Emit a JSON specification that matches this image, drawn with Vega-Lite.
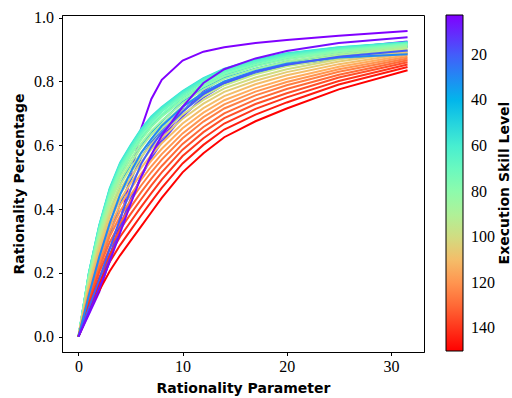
{
"$schema": "https://vega.github.io/schema/vega-lite/v6.json",
"width": 362, "height": 337,
"autosize": "none",
"padding": {"left": 62, "top": 15, "right": 88, "bottom": 46},
"background": "white",
"config": {
 "view": {"stroke": "black", "strokeWidth": 1},
 "axis": {"grid": false, "domainColor": "black", "domainWidth": 1, "tickColor": "black", "tickSize": 3.5, "tickWidth": 1,
  "labelFont": "Liberation Serif", "labelFontSize": 16, "labelColor": "black",
  "titleFont": "DejaVu Sans", "titleFontWeight": "bold", "titleFontSize": 14, "titleColor": "black"}
},
"data": {"values": [
{"L":2.5,"x":0,"y":0},{"L":2.5,"x":1,"y":0.07},{"L":2.5,"x":2,"y":0.14},{"L":2.5,"x":3,"y":0.24},{"L":2.5,"x":4,"y":0.36},{"L":2.5,"x":5,"y":0.5},{"L":2.5,"x":6,"y":0.65},{"L":2.5,"x":7,"y":0.745},{"L":2.5,"x":8,"y":0.805},{"L":2.5,"x":10,"y":0.865},{"L":2.5,"x":12,"y":0.893},{"L":2.5,"x":14,"y":0.907},{"L":2.5,"x":17,"y":0.92},{"L":2.5,"x":20,"y":0.93},{"L":2.5,"x":25,"y":0.943},{"L":2.5,"x":31.6,"y":0.958},
{"L":10,"x":0,"y":0},{"L":10,"x":1,"y":0.08},{"L":10,"x":2,"y":0.16},{"L":10,"x":3,"y":0.25},{"L":10,"x":4,"y":0.34},{"L":10,"x":5,"y":0.425},{"L":10,"x":6,"y":0.5},{"L":10,"x":7,"y":0.565},{"L":10,"x":8,"y":0.62},{"L":10,"x":10,"y":0.705},{"L":10,"x":12,"y":0.77},{"L":10,"x":14,"y":0.815},{"L":10,"x":17,"y":0.855},{"L":10,"x":20,"y":0.878},{"L":10,"x":25,"y":0.903},{"L":10,"x":31.6,"y":0.925},
{"L":15,"x":0,"y":0},{"L":15,"x":1,"y":0.085},{"L":15,"x":2,"y":0.165},{"L":15,"x":3,"y":0.255},{"L":15,"x":4,"y":0.345},{"L":15,"x":5,"y":0.43},{"L":15,"x":6,"y":0.5},{"L":15,"x":7,"y":0.56},{"L":15,"x":8,"y":0.61},{"L":15,"x":10,"y":0.69},{"L":15,"x":12,"y":0.75},{"L":15,"x":14,"y":0.79},{"L":15,"x":17,"y":0.83},{"L":15,"x":20,"y":0.855},{"L":15,"x":25,"y":0.885},{"L":15,"x":31.6,"y":0.91},
{"L":25,"x":0,"y":0},{"L":25,"x":1,"y":0.11},{"L":25,"x":2,"y":0.21},{"L":25,"x":3,"y":0.32},{"L":25,"x":4,"y":0.415},{"L":25,"x":5,"y":0.49},{"L":25,"x":6,"y":0.56},{"L":25,"x":7,"y":0.61},{"L":25,"x":8,"y":0.65},{"L":25,"x":10,"y":0.71},{"L":25,"x":12,"y":0.755},{"L":25,"x":14,"y":0.79},{"L":25,"x":17,"y":0.825},{"L":25,"x":20,"y":0.85},{"L":25,"x":25,"y":0.872},{"L":25,"x":31.6,"y":0.887},
{"L":35,"x":0,"y":0},{"L":35,"x":1,"y":0.15},{"L":35,"x":2,"y":0.28},{"L":35,"x":3,"y":0.39},{"L":35,"x":4,"y":0.475},{"L":35,"x":5,"y":0.54},{"L":35,"x":6,"y":0.595},{"L":35,"x":7,"y":0.64},{"L":35,"x":8,"y":0.675},{"L":35,"x":10,"y":0.735},{"L":35,"x":12,"y":0.778},{"L":35,"x":14,"y":0.81},{"L":35,"x":17,"y":0.84},{"L":35,"x":20,"y":0.862},{"L":35,"x":25,"y":0.882},{"L":35,"x":31.6,"y":0.895},
{"L":40,"x":0,"y":0},{"L":40,"x":1,"y":0.17},{"L":40,"x":2,"y":0.31},{"L":40,"x":3,"y":0.425},{"L":40,"x":4,"y":0.51},{"L":40,"x":5,"y":0.57},{"L":40,"x":6,"y":0.62},{"L":40,"x":7,"y":0.66},{"L":40,"x":8,"y":0.695},{"L":40,"x":10,"y":0.75},{"L":40,"x":12,"y":0.79},{"L":40,"x":14,"y":0.822},{"L":40,"x":17,"y":0.85},{"L":40,"x":20,"y":0.871},{"L":40,"x":25,"y":0.892},{"L":40,"x":31.6,"y":0.908},
{"L":45,"x":0,"y":0},{"L":45,"x":1,"y":0.185},{"L":45,"x":2,"y":0.33},{"L":45,"x":3,"y":0.445},{"L":45,"x":4,"y":0.527},{"L":45,"x":5,"y":0.585},{"L":45,"x":6,"y":0.635},{"L":45,"x":7,"y":0.675},{"L":45,"x":8,"y":0.707},{"L":45,"x":10,"y":0.76},{"L":45,"x":12,"y":0.8},{"L":45,"x":14,"y":0.83},{"L":45,"x":17,"y":0.858},{"L":45,"x":20,"y":0.879},{"L":45,"x":25,"y":0.899},{"L":45,"x":31.6,"y":0.915},
{"L":50,"x":0,"y":0},{"L":50,"x":1,"y":0.198},{"L":50,"x":2,"y":0.346},{"L":50,"x":3,"y":0.46},{"L":50,"x":4,"y":0.539},{"L":50,"x":5,"y":0.594},{"L":50,"x":6,"y":0.644},{"L":50,"x":7,"y":0.684},{"L":50,"x":8,"y":0.714},{"L":50,"x":10,"y":0.765},{"L":50,"x":12,"y":0.805},{"L":50,"x":14,"y":0.836},{"L":50,"x":17,"y":0.864},{"L":50,"x":20,"y":0.885},{"L":50,"x":25,"y":0.904},{"L":50,"x":31.6,"y":0.921},
{"L":55,"x":0,"y":0},{"L":55,"x":1,"y":0.2},{"L":55,"x":2,"y":0.35},{"L":55,"x":3,"y":0.465},{"L":55,"x":4,"y":0.545},{"L":55,"x":5,"y":0.6},{"L":55,"x":6,"y":0.65},{"L":55,"x":7,"y":0.69},{"L":55,"x":8,"y":0.72},{"L":55,"x":10,"y":0.77},{"L":55,"x":12,"y":0.81},{"L":55,"x":14,"y":0.84},{"L":55,"x":17,"y":0.868},{"L":55,"x":20,"y":0.888},{"L":55,"x":25,"y":0.907},{"L":55,"x":31.6,"y":0.923},
{"L":60,"x":0,"y":0},{"L":60,"x":1,"y":0.199},{"L":60,"x":2,"y":0.348},{"L":60,"x":3,"y":0.462},{"L":60,"x":4,"y":0.542},{"L":60,"x":5,"y":0.597},{"L":60,"x":6,"y":0.647},{"L":60,"x":7,"y":0.687},{"L":60,"x":8,"y":0.717},{"L":60,"x":10,"y":0.767},{"L":60,"x":12,"y":0.808},{"L":60,"x":14,"y":0.838},{"L":60,"x":17,"y":0.866},{"L":60,"x":20,"y":0.886},{"L":60,"x":25,"y":0.906},{"L":60,"x":31.6,"y":0.922},
{"L":65,"x":0,"y":0},{"L":65,"x":1,"y":0.196},{"L":65,"x":2,"y":0.344},{"L":65,"x":3,"y":0.457},{"L":65,"x":4,"y":0.536},{"L":65,"x":5,"y":0.591},{"L":65,"x":6,"y":0.641},{"L":65,"x":7,"y":0.681},{"L":65,"x":8,"y":0.711},{"L":65,"x":10,"y":0.762},{"L":65,"x":12,"y":0.803},{"L":65,"x":14,"y":0.834},{"L":65,"x":17,"y":0.862},{"L":65,"x":20,"y":0.883},{"L":65,"x":25,"y":0.903},{"L":65,"x":31.6,"y":0.92},
{"L":70,"x":0,"y":0},{"L":70,"x":1,"y":0.194},{"L":70,"x":2,"y":0.34},{"L":70,"x":3,"y":0.452},{"L":70,"x":4,"y":0.531},{"L":70,"x":5,"y":0.585},{"L":70,"x":6,"y":0.635},{"L":70,"x":7,"y":0.675},{"L":70,"x":8,"y":0.706},{"L":70,"x":10,"y":0.757},{"L":70,"x":12,"y":0.798},{"L":70,"x":14,"y":0.829},{"L":70,"x":17,"y":0.858},{"L":70,"x":20,"y":0.879},{"L":70,"x":25,"y":0.9},{"L":70,"x":31.6,"y":0.919},
{"L":75,"x":0,"y":0},{"L":75,"x":1,"y":0.19},{"L":75,"x":2,"y":0.334},{"L":75,"x":3,"y":0.444},{"L":75,"x":4,"y":0.522},{"L":75,"x":5,"y":0.576},{"L":75,"x":6,"y":0.626},{"L":75,"x":7,"y":0.666},{"L":75,"x":8,"y":0.697},{"L":75,"x":10,"y":0.75},{"L":75,"x":12,"y":0.791},{"L":75,"x":14,"y":0.823},{"L":75,"x":17,"y":0.853},{"L":75,"x":20,"y":0.874},{"L":75,"x":25,"y":0.896},{"L":75,"x":31.6,"y":0.916},
{"L":80,"x":0,"y":0},{"L":80,"x":1,"y":0.187},{"L":80,"x":2,"y":0.327},{"L":80,"x":3,"y":0.436},{"L":80,"x":4,"y":0.513},{"L":80,"x":5,"y":0.567},{"L":80,"x":6,"y":0.616},{"L":80,"x":7,"y":0.657},{"L":80,"x":8,"y":0.689},{"L":80,"x":10,"y":0.742},{"L":80,"x":12,"y":0.784},{"L":80,"x":14,"y":0.816},{"L":80,"x":17,"y":0.847},{"L":80,"x":20,"y":0.869},{"L":80,"x":25,"y":0.893},{"L":80,"x":31.6,"y":0.913},
{"L":85,"x":0,"y":0},{"L":85,"x":1,"y":0.182},{"L":85,"x":2,"y":0.319},{"L":85,"x":3,"y":0.426},{"L":85,"x":4,"y":0.502},{"L":85,"x":5,"y":0.555},{"L":85,"x":6,"y":0.604},{"L":85,"x":7,"y":0.645},{"L":85,"x":8,"y":0.677},{"L":85,"x":10,"y":0.732},{"L":85,"x":12,"y":0.775},{"L":85,"x":14,"y":0.808},{"L":85,"x":17,"y":0.839},{"L":85,"x":20,"y":0.862},{"L":85,"x":25,"y":0.887},{"L":85,"x":31.6,"y":0.91},
{"L":90,"x":0,"y":0},{"L":90,"x":1,"y":0.177},{"L":90,"x":2,"y":0.311},{"L":90,"x":3,"y":0.416},{"L":90,"x":4,"y":0.49},{"L":90,"x":5,"y":0.543},{"L":90,"x":6,"y":0.592},{"L":90,"x":7,"y":0.633},{"L":90,"x":8,"y":0.666},{"L":90,"x":10,"y":0.722},{"L":90,"x":12,"y":0.765},{"L":90,"x":14,"y":0.799},{"L":90,"x":17,"y":0.831},{"L":90,"x":20,"y":0.855},{"L":90,"x":25,"y":0.882},{"L":90,"x":31.6,"y":0.906},
{"L":95,"x":0,"y":0},{"L":95,"x":1,"y":0.171},{"L":95,"x":2,"y":0.301},{"L":95,"x":3,"y":0.403},{"L":95,"x":4,"y":0.475},{"L":95,"x":5,"y":0.528},{"L":95,"x":6,"y":0.577},{"L":95,"x":7,"y":0.618},{"L":95,"x":8,"y":0.652},{"L":95,"x":10,"y":0.709},{"L":95,"x":12,"y":0.754},{"L":95,"x":14,"y":0.788},{"L":95,"x":17,"y":0.822},{"L":95,"x":20,"y":0.847},{"L":95,"x":25,"y":0.875},{"L":95,"x":31.6,"y":0.902},
{"L":100,"x":0,"y":0},{"L":100,"x":1,"y":0.165},{"L":100,"x":2,"y":0.291},{"L":100,"x":3,"y":0.39},{"L":100,"x":4,"y":0.461},{"L":100,"x":5,"y":0.513},{"L":100,"x":6,"y":0.562},{"L":100,"x":7,"y":0.603},{"L":100,"x":8,"y":0.637},{"L":100,"x":10,"y":0.696},{"L":100,"x":12,"y":0.742},{"L":100,"x":14,"y":0.778},{"L":100,"x":17,"y":0.812},{"L":100,"x":20,"y":0.838},{"L":100,"x":25,"y":0.869},{"L":100,"x":31.6,"y":0.898},
{"L":105,"x":0,"y":0},{"L":105,"x":1,"y":0.159},{"L":105,"x":2,"y":0.28},{"L":105,"x":3,"y":0.377},{"L":105,"x":4,"y":0.446},{"L":105,"x":5,"y":0.498},{"L":105,"x":6,"y":0.546},{"L":105,"x":7,"y":0.588},{"L":105,"x":8,"y":0.623},{"L":105,"x":10,"y":0.683},{"L":105,"x":12,"y":0.73},{"L":105,"x":14,"y":0.767},{"L":105,"x":17,"y":0.802},{"L":105,"x":20,"y":0.829},{"L":105,"x":25,"y":0.862},{"L":105,"x":31.6,"y":0.893},
{"L":110,"x":0,"y":0},{"L":110,"x":1,"y":0.152},{"L":110,"x":2,"y":0.268},{"L":110,"x":3,"y":0.361},{"L":110,"x":4,"y":0.429},{"L":110,"x":5,"y":0.48},{"L":110,"x":6,"y":0.528},{"L":110,"x":7,"y":0.57},{"L":110,"x":8,"y":0.606},{"L":110,"x":10,"y":0.668},{"L":110,"x":12,"y":0.716},{"L":110,"x":14,"y":0.754},{"L":110,"x":17,"y":0.791},{"L":110,"x":20,"y":0.819},{"L":110,"x":25,"y":0.854},{"L":110,"x":31.6,"y":0.888},
{"L":115,"x":0,"y":0},{"L":115,"x":1,"y":0.145},{"L":115,"x":2,"y":0.256},{"L":115,"x":3,"y":0.345},{"L":115,"x":4,"y":0.412},{"L":115,"x":5,"y":0.462},{"L":115,"x":6,"y":0.51},{"L":115,"x":7,"y":0.552},{"L":115,"x":8,"y":0.589},{"L":115,"x":10,"y":0.653},{"L":115,"x":12,"y":0.702},{"L":115,"x":14,"y":0.741},{"L":115,"x":17,"y":0.779},{"L":115,"x":20,"y":0.808},{"L":115,"x":25,"y":0.846},{"L":115,"x":31.6,"y":0.883},
{"L":120,"x":0,"y":0},{"L":120,"x":1,"y":0.138},{"L":120,"x":2,"y":0.243},{"L":120,"x":3,"y":0.33},{"L":120,"x":4,"y":0.394},{"L":120,"x":5,"y":0.444},{"L":120,"x":6,"y":0.491},{"L":120,"x":7,"y":0.534},{"L":120,"x":8,"y":0.572},{"L":120,"x":10,"y":0.637},{"L":120,"x":12,"y":0.688},{"L":120,"x":14,"y":0.728},{"L":120,"x":17,"y":0.768},{"L":120,"x":20,"y":0.798},{"L":120,"x":25,"y":0.838},{"L":120,"x":31.6,"y":0.877},
{"L":125,"x":0,"y":0},{"L":125,"x":1,"y":0.13},{"L":125,"x":2,"y":0.231},{"L":125,"x":3,"y":0.314},{"L":125,"x":4,"y":0.377},{"L":125,"x":5,"y":0.426},{"L":125,"x":6,"y":0.473},{"L":125,"x":7,"y":0.516},{"L":125,"x":8,"y":0.555},{"L":125,"x":10,"y":0.622},{"L":125,"x":12,"y":0.674},{"L":125,"x":14,"y":0.715},{"L":125,"x":17,"y":0.756},{"L":125,"x":20,"y":0.788},{"L":125,"x":25,"y":0.83},{"L":125,"x":31.6,"y":0.872},
{"L":130,"x":0,"y":0},{"L":130,"x":1,"y":0.122},{"L":130,"x":2,"y":0.217},{"L":130,"x":3,"y":0.296},{"L":130,"x":4,"y":0.357},{"L":130,"x":5,"y":0.405},{"L":130,"x":6,"y":0.452},{"L":130,"x":7,"y":0.495},{"L":130,"x":8,"y":0.535},{"L":130,"x":10,"y":0.604},{"L":130,"x":12,"y":0.657},{"L":130,"x":14,"y":0.7},{"L":130,"x":17,"y":0.743},{"L":130,"x":20,"y":0.776},{"L":130,"x":25,"y":0.821},{"L":130,"x":31.6,"y":0.866},
{"L":135,"x":0,"y":0},{"L":135,"x":1,"y":0.114},{"L":135,"x":2,"y":0.202},{"L":135,"x":3,"y":0.278},{"L":135,"x":4,"y":0.336},{"L":135,"x":5,"y":0.384},{"L":135,"x":6,"y":0.43},{"L":135,"x":7,"y":0.474},{"L":135,"x":8,"y":0.515},{"L":135,"x":10,"y":0.586},{"L":135,"x":12,"y":0.641},{"L":135,"x":14,"y":0.685},{"L":135,"x":17,"y":0.729},{"L":135,"x":20,"y":0.763},{"L":135,"x":25,"y":0.812},{"L":135,"x":31.6,"y":0.86},
{"L":140,"x":0,"y":0},{"L":140,"x":1,"y":0.104},{"L":140,"x":2,"y":0.186},{"L":140,"x":3,"y":0.257},{"L":140,"x":4,"y":0.313},{"L":140,"x":5,"y":0.36},{"L":140,"x":6,"y":0.406},{"L":140,"x":7,"y":0.45},{"L":140,"x":8,"y":0.492},{"L":140,"x":10,"y":0.566},{"L":140,"x":12,"y":0.622},{"L":140,"x":14,"y":0.668},{"L":140,"x":17,"y":0.714},{"L":140,"x":20,"y":0.75},{"L":140,"x":25,"y":0.801},{"L":140,"x":31.6,"y":0.853},
{"L":145,"x":0,"y":0},{"L":145,"x":1,"y":0.093},{"L":145,"x":2,"y":0.168},{"L":145,"x":3,"y":0.234},{"L":145,"x":4,"y":0.287},{"L":145,"x":5,"y":0.333},{"L":145,"x":6,"y":0.379},{"L":145,"x":7,"y":0.423},{"L":145,"x":8,"y":0.466},{"L":145,"x":10,"y":0.543},{"L":145,"x":12,"y":0.601},{"L":145,"x":14,"y":0.649},{"L":145,"x":17,"y":0.696},{"L":145,"x":20,"y":0.734},{"L":145,"x":25,"y":0.79},{"L":145,"x":31.6,"y":0.845},
{"L":150,"x":0,"y":0},{"L":150,"x":1,"y":0.08},{"L":150,"x":2,"y":0.145},{"L":150,"x":3,"y":0.205},{"L":150,"x":4,"y":0.255},{"L":150,"x":5,"y":0.3},{"L":150,"x":6,"y":0.345},{"L":150,"x":7,"y":0.39},{"L":150,"x":8,"y":0.435},{"L":150,"x":10,"y":0.515},{"L":150,"x":12,"y":0.575},{"L":150,"x":14,"y":0.625},{"L":150,"x":17,"y":0.675},{"L":150,"x":20,"y":0.715},{"L":150,"x":25,"y":0.775},{"L":150,"x":31.6,"y":0.835},
{"L":30,"x":0,"y":0},{"L":30,"x":1,"y":0.13},{"L":30,"x":2,"y":0.25},{"L":30,"x":3,"y":0.355},{"L":30,"x":4,"y":0.445},{"L":30,"x":5,"y":0.515},{"L":30,"x":6,"y":0.575},{"L":30,"x":7,"y":0.62},{"L":30,"x":8,"y":0.66},{"L":30,"x":10,"y":0.72},{"L":30,"x":12,"y":0.765},{"L":30,"x":14,"y":0.8},{"L":30,"x":17,"y":0.833},{"L":30,"x":20,"y":0.855},{"L":30,"x":25,"y":0.875},{"L":30,"x":31.6,"y":0.885},
{"L":20,"x":0,"y":0},{"L":20,"x":1,"y":0.09},{"L":20,"x":2,"y":0.18},{"L":20,"x":3,"y":0.275},{"L":20,"x":4,"y":0.37},{"L":20,"x":5,"y":0.46},{"L":20,"x":6,"y":0.54},{"L":20,"x":7,"y":0.595},{"L":20,"x":8,"y":0.64},{"L":20,"x":10,"y":0.705},{"L":20,"x":12,"y":0.76},{"L":20,"x":14,"y":0.795},{"L":20,"x":17,"y":0.83},{"L":20,"x":20,"y":0.852},{"L":20,"x":25,"y":0.877},{"L":20,"x":31.6,"y":0.897},
{"L":5,"x":0,"y":0},{"L":5,"x":1,"y":0.075},{"L":5,"x":2,"y":0.15},{"L":5,"x":3,"y":0.235},{"L":5,"x":4,"y":0.325},{"L":5,"x":5,"y":0.415},{"L":5,"x":6,"y":0.5},{"L":5,"x":7,"y":0.57},{"L":5,"x":8,"y":0.63},{"L":5,"x":10,"y":0.72},{"L":5,"x":12,"y":0.795},{"L":5,"x":14,"y":0.838},{"L":5,"x":17,"y":0.872},{"L":5,"x":20,"y":0.895},{"L":5,"x":25,"y":0.92},{"L":5,"x":31.6,"y":0.938}
]},
"mark": {"type": "line", "strokeWidth": 2, "clip": true},
"encoding": {
 "x": {"field": "x", "type": "quantitative",
  "scale": {"domain": [-1.58, 33.18], "nice": false, "zero": false},
  "axis": {"values": [0, 10, 20, 30], "title": "Rationality Parameter", "labelPadding": 3, "titlePadding": 7}},
 "y": {"field": "y", "type": "quantitative",
  "scale": {"domain": [-0.048, 1.008], "nice": false, "zero": false},
  "axis": {"values": [0, 0.2, 0.4, 0.6, 0.8, 1.0], "format": ".1f", "title": "Rationality Percentage", "labelPadding": 5, "titlePadding": 7}},
 "color": {"field": "L", "type": "quantitative",
  "scale": {"type": "linear", "domain": [150, 131.5625, 113.125, 94.6875, 76.25, 57.8125, 39.375, 20.9375, 2.5],
   "range": ["#ff0000", "#ff6232", "#ffb462", "#bfec8e", "#80ffb4", "#40ecd4", "#00b4ec", "#4062fa", "#8000ff"], "interpolate": "rgb"},
  "legend": {"orient": "none", "legendX": 384, "legendY": 0, "direction": "vertical",
   "gradientLength": 336, "gradientThickness": 17, "gradientStrokeColor": "black", "gradientStrokeWidth": 1,
   "values": [20, 40, 60, 80, 100, 120, 140], "labelOverlap": false,
   "labelFont": "Liberation Serif", "labelFontSize": 16, "labelColor": "black", "labelOffset": 8,
   "title": "Execution Skill Level", "titleOrient": "right", "titleAnchor": "middle",
   "titleFont": "DejaVu Sans", "titleFontWeight": "bold", "titleFontSize": 14, "titleColor": "black", "titlePadding": 1,
   "encode": {"title": {"update": {"angle": {"value": -90}, "baseline": {"value": "top"}, "dy": {"value": 2}}}}}},
 "detail": {"field": "L", "type": "quantitative"},
 "order": {"field": "x", "type": "quantitative"}
}
}
